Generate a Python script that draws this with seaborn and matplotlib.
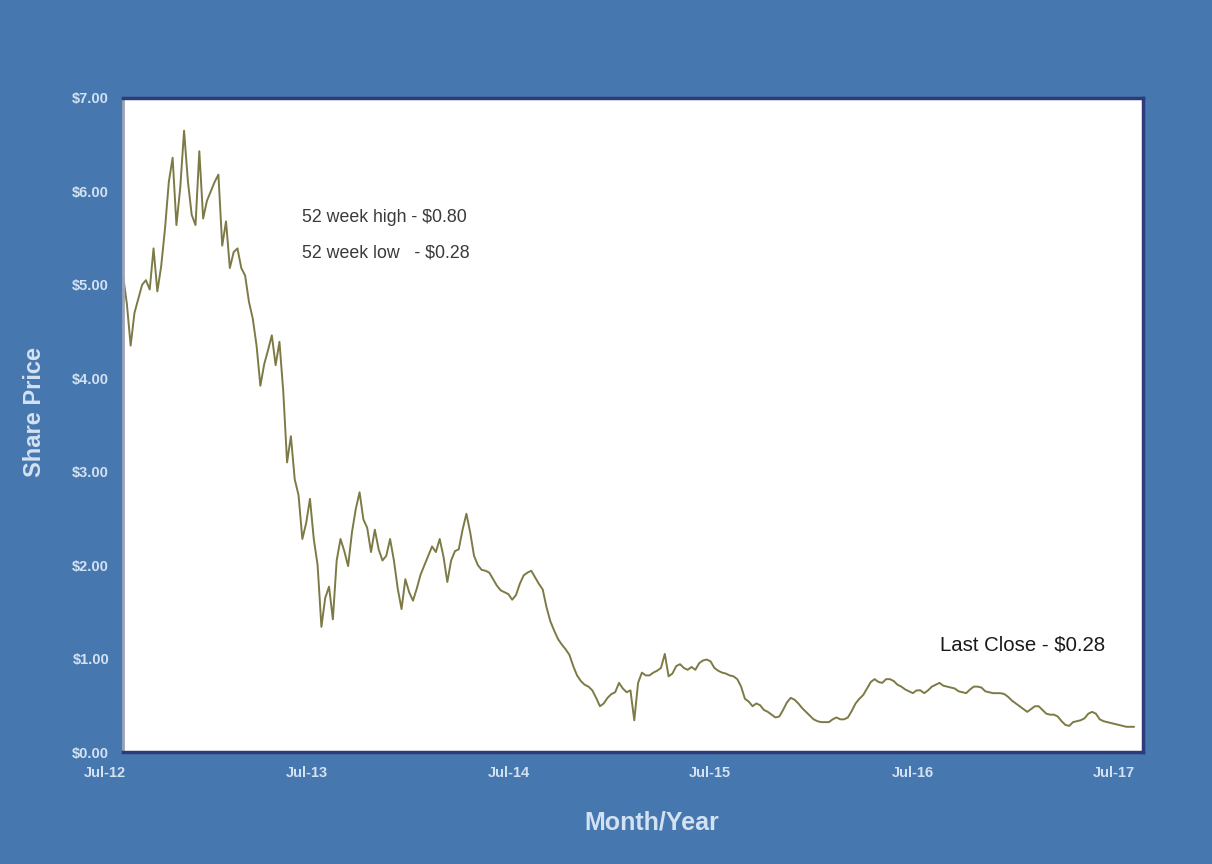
import matplotlib
matplotlib.use('Agg')
import matplotlib.pyplot as plt
import matplotlib.dates as mdates
import pandas as pd
import seaborn as sns

# Weekly share price, Aug 2012 - Aug 2017
first_date = '2012-08-02'
last_date = '2017-08-06'
prices = [
    5.10, 4.80, 4.35, 4.70, 4.85, 5.00, 5.05, 4.95, 5.39, 4.93,
    5.20, 5.60, 6.10, 6.36, 5.64, 6.04, 6.65, 6.11, 5.75, 5.64,
    6.43, 5.71, 5.90, 6.00, 6.10, 6.18, 5.42, 5.68, 5.18, 5.35,
    5.39, 5.18, 5.10, 4.82, 4.64, 4.35, 3.92, 4.15, 4.30, 4.46,
    4.14, 4.39, 3.86, 3.10, 3.38, 2.92, 2.75, 2.28, 2.45, 2.71,
    2.28, 2.00, 1.34, 1.65, 1.77, 1.42, 2.05, 2.28, 2.15, 1.99,
    2.35, 2.60, 2.78, 2.49, 2.40, 2.14, 2.38, 2.17, 2.05, 2.10,
    2.28, 2.05, 1.75, 1.53, 1.85, 1.71, 1.62, 1.75, 1.90, 2.00,
    2.10, 2.20, 2.14, 2.28, 2.09, 1.82, 2.05, 2.15, 2.17, 2.38,
    2.55, 2.35, 2.10, 2.00, 1.95, 1.94, 1.92, 1.85, 1.78, 1.73,
    1.71, 1.69, 1.63, 1.68, 1.80, 1.89, 1.92, 1.94, 1.87, 1.80,
    1.74, 1.55, 1.40, 1.30, 1.21, 1.15, 1.10, 1.04, 0.92, 0.82,
    0.76, 0.72, 0.70, 0.66, 0.58, 0.49, 0.52, 0.58, 0.62, 0.64,
    0.74, 0.68, 0.64, 0.66, 0.34, 0.74, 0.85, 0.82, 0.82, 0.85,
    0.87, 0.90, 1.05, 0.81, 0.84, 0.92, 0.94, 0.90, 0.88, 0.91,
    0.88, 0.95, 0.98, 0.99, 0.97, 0.90, 0.87, 0.85, 0.84, 0.82,
    0.81, 0.78, 0.70, 0.57, 0.54, 0.49, 0.52, 0.50, 0.45, 0.43,
    0.40, 0.37, 0.38, 0.45, 0.53, 0.58, 0.56, 0.52, 0.47, 0.43,
    0.39, 0.35, 0.33, 0.32, 0.32, 0.32, 0.35, 0.37, 0.35, 0.35,
    0.37, 0.44, 0.52, 0.57, 0.61, 0.68, 0.75, 0.78, 0.75, 0.74,
    0.78, 0.78, 0.76, 0.72, 0.70, 0.67, 0.65, 0.63, 0.66, 0.66,
    0.63, 0.66, 0.70, 0.72, 0.74, 0.71, 0.70, 0.69, 0.68, 0.65,
    0.64, 0.63, 0.67, 0.70, 0.70, 0.69, 0.65, 0.64, 0.63, 0.63,
    0.63, 0.62, 0.59, 0.55, 0.52, 0.49, 0.46, 0.43, 0.46, 0.49,
    0.49, 0.45, 0.41, 0.40, 0.40, 0.38, 0.33, 0.29, 0.28, 0.32,
    0.33, 0.34, 0.36, 0.41, 0.43, 0.41, 0.35, 0.33, 0.32, 0.31,
    0.30, 0.29, 0.28, 0.27, 0.27, 0.27,
]
tick_years = [2013, 2014, 2015, 2016, 2017]
notes_high = ['52 week high - $0.80', '52 week low   - $0.28']
note_close = 'Last Close - $0.28'

df = pd.DataFrame({
    'date': pd.date_range(first_date, last_date, periods=len(prices)),
    'price': prices,
})

sns.set_style('white')
plt.rcParams['font.family'] = ['Liberation Sans', 'DejaVu Sans']

bg = '#4677ae'
label_col = '#d3e2f3'
fig = plt.figure(figsize=(12.12, 8.64), dpi=100, facecolor=bg)
ax = fig.add_axes([0.1015, 0.1296, 0.8415, 0.757])
ax.set_facecolor('white')

sns.lineplot(data=df, x='date', y='price', ax=ax, color='#7d7a46', linewidth=1.4)

ax.set_ylim(0, 7)
ax.set_xlim(pd.Timestamp('2012-08-02'), pd.Timestamp('2017-08-22'))
ax.set_yticks(range(0, 8))
ax.yaxis.set_major_formatter(lambda v, p: '${:.2f}'.format(v))
ax.set_xticks([pd.Timestamp(y, 7, 1) for y in tick_years])
ax.xaxis.set_major_formatter(mdates.DateFormatter('%b-%y'))
ax.tick_params(axis='both', colors='#b0b0b0', labelcolor=label_col, labelsize=10.5,
               length=3, direction='in', pad=10)
for lbl in ax.get_xticklabels() + ax.get_yticklabels():
    lbl.set_fontweight('bold')
# first month label sits just left of the plot edge
ax.text(pd.Timestamp('2012-07-01'), -0.021, 'Jul-12', transform=ax.get_xaxis_transform(),
        ha='center', va='top', color=label_col, fontsize=10.5, fontweight='bold', clip_on=False)

for side in ['top', 'right', 'bottom']:
    ax.spines[side].set_color('#2d3b7a')
    ax.spines[side].set_linewidth(2.5)
ax.spines['left'].set_color('#9aa3b8')
ax.spines['left'].set_linewidth(2)

ax.set_ylabel('Share Price', color=label_col, fontsize=17, fontweight='bold')
ax.yaxis.set_label_coords(-0.076, 0.52)
ax.set_xlabel('Month/Year', color=label_col, fontsize=18, fontweight='bold')
ax.xaxis.set_label_coords(0.518, -0.09)

ax.text(0.1755, 0.8165, notes_high[0], transform=ax.transAxes, fontsize=12.8,
        color='#3a3a3a', va='center', ha='left')
ax.text(0.1755, 0.763, notes_high[1], transform=ax.transAxes, fontsize=12.8,
        color='#3a3a3a', va='center', ha='left')
ax.text(0.801, 0.1636, note_close, transform=ax.transAxes, fontsize=14.7,
        color='#1a1a1a', va='center', ha='left')

fig.savefig('out.png', dpi=100, facecolor=bg)
